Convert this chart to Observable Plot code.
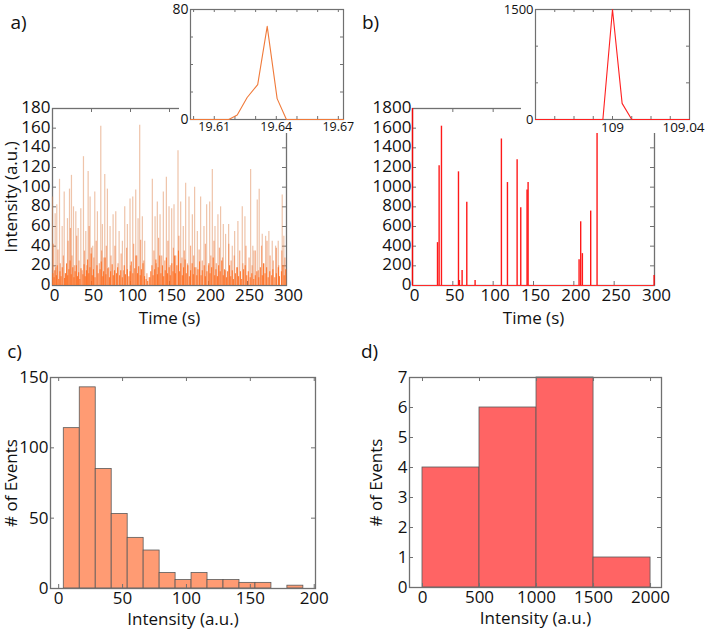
<!DOCTYPE html>
<html lang="en">
<head>
<meta charset="UTF-8">
<title>Intensity traces and histograms</title>
<script src="https://cdn.jsdelivr.net/npm/d3@7"></script>
<script src="https://cdn.jsdelivr.net/npm/@observablehq/plot@0.6"></script>
<style>
  body { margin: 0; background: white; }
  #fig { position: relative; width: 708px; height: 632px; }
</style>
</head>
<body>
<div id="fig"></div>
<script>
// ---- a) orange trace: [time (s), intensity] ----
const aTallSpikes = [
  [0,90],[3.4,73],[5.5,82],[9,108],[12.4,60],[15,95],[19.2,68],[21.8,98],[24.3,112],[26.9,80],
  [29.9,75],[32.9,58],[36.3,78],[39.7,131],[42.7,55],[45.7,116],[48.2,90],[51.6,40],[54.2,95],[57.6,75],
  [61.9,162],[64,62],[67,113],[70.4,98],[73.8,60],[77.7,72],[81.1,75],[85.4,55],[89.6,45],[92.6,80],
  [96,62],[99.4,88],[102.9,90],[106.7,97],[109.7,68],[111.8,163],[115.2,70],[118.2,45],[128,108],[131.5,70],
  [134.4,85],[137.9,72],[142.1,95],[146,110],[149.4,80],[152.8,78],[155.8,82],[160.9,137],[164.3,85],[167.7,60],
  [170.7,104],[175,90],[179.3,72],[182.2,100],[185.7,55],[189.9,90],[194.2,60],[197.6,82],[201.5,85],[204.9,118],
  [208.3,60],[212.1,72],[215.5,80],[219,62],[221.9,52],[225.8,62],[230.5,40],[233.5,55],[237.7,65],[243.3,80],
  [246.7,70],[254,118],[256.8,40],[258.2,35],[262.5,87],[265,98],[268.9,52],[273.2,50],[277.4,55],[281.7,45],
  [286,40],[289.4,45],[294.5,92],[296.6,50]
];
const aMidSpikes = [
  [1,42],[4,18],[7,36],[10,22],[14,30],[17,12],[20,45],[23,58],[25,30],[28,20],[31,50],[34,25],[38,15],
  [41,35],[44,20],[47,60],[50,38],[53,28],[56,45],[60,22],[63,35],[66,28],[69,40],[72,18],[75,30],[80,40],
  [84,22],[88,32],[91,15],[95,38],[100,20],[104,42],[108,30],[113,46],[117,25],[121,12],[125,8],[130,35],
  [133,22],[136,48],[140,30],[144,25],[148,45],[151,20],[155,38],[158,30],[162,50],[166,28],[169,35],
  [173,22],[177,40],[181,30],[184,18],[188,36],[192,25],[196,42],[200,20],[203,30],[207,45],[210,22],
  [214,38],[218,28],[222,15],[226,42],[229,25],[233,30],[236,18],[240,35],[244,22],[248,40],[252,28],
  [256,20],[260,35],[264,15],[268,40],[271,22],[275,45],[279,30],[283,25],[287,38],[290,20],[294,35],[298,28]
];
const aLowSpikes = [
  [0.5,12],[2,8],[3,15],[5,10],[6,20],[8,6],[9.5,14],[11,9],[12.5,18],[15.5,7],[16.5,12],[18,22],[19.5,10],
  [21,16],[22.5,25],[24,11],[26,18],[27.5,8],[29,14],[30.5,20],[32,9],[33.5,13],[35,6],[36.5,17],[39,11],
  [40.5,21],[42,9],[43.5,15],[45,26],[46.5,12],[48,18],[49.5,32],[51,10],[52.5,16],[54.5,8],[57,20],
  [58.5,12],[61,16],[62.5,24],[64.5,9],[65.5,14],[67.5,28],[68.5,11],[71,17],[73,8],[74.5,14],[76.5,21],
  [78,10],[79.5,15],[82,12],[83.5,18],[86,10],[87.5,15],[89.5,8],[92,20],[93.5,11],[96,16],[98,9],
  [99.5,14],[101,24],[103,12],[105.5,17],[107,30],[109,12],[110.5,19],[112.5,10],[114,16],[116,22],
  [118,9],[120,6],[122,4],[124,8],[126,14],[127.5,20],[129,10],[131,16],[132.5,26],[134.5,11],[135.5,18],
  [137.5,30],[139,12],[141,20],[142.5,9],[144.5,15],[146,28],[147.5,12],[149.5,18],[151,10],[153,22],
  [154.5,14],[156.5,30],[157.5,12],[159.5,20],[161.5,35],[163,14],[164.5,22],[166.5,10],[168,18],[170,26],
  [171.5,12],[173.5,20],[175.5,9],[177,15],[179,22],[180.5,11],[182.5,18],[185,10],[186.5,16],[188.5,24],
  [190.5,10],[192,15],[194.5,20],[196,9],[198,14],[200.5,22],[202,12],[204,18],[206,28],[208,10],
  [209.5,16],[211.5,9],[213,20],[215,14],[217,25],[219,10],[220.5,16],[223,8],[224.5,14],[227,20],
  [228.5,9],[230.5,15],[232,6],[234.5,12],[237,18],[238.5,9],[241,14],[242.5,6],[245,16],[247,20],
  [249,10],[251,14],[253.5,8],[255.5,12],[258,6],[260,10],[262,14],[264.5,8],[266.5,18],[269,10],
  [270.5,22],[272.5,12],[274.5,18],[276.5,8],[278.5,14],[281,10],[282.5,16],[285,8],[287,12],
  [289.5,18],[291,9],[293.5,14],[295.5,20],[297,10],[299,16]
];
const aTicksX = [0, 50, 100, 150, 200, 250, 300];
const aTicksY = [0, 20, 40, 60, 80, 100, 120, 140, 160, 180];

// inset a: single event
const insetATime = [19.5985, 19.617, 19.6211, 19.6259, 19.631, 19.6356, 19.6404, 19.6449, 19.6725];
const insetAIntensity = [0, 0, 3.3, 16, 25.4, 67.7, 15.2, 0, 0];
const insetATickLabels = [19.61, 19.64, 19.67];
const insetATicksX = [19.6, 19.61, 19.62, 19.63, 19.64, 19.65, 19.66, 19.67];

// ---- b) red trace ----
const bSpikeTime = [0, 31, 33, 35.9, 57, 58.2, 61.5, 67.3, 77.6, 110.2, 117.7, 129.7, 134.2, 142, 143.3,
  206.5, 208.5, 210.6, 220.9, 228.8, 299.5];
const bSpikeIntensity = [1800, 436, 1217, 1620, 1156, 51, 153, 846, 51, 1490, 1047, 1279, 791, 972, 1047,
  262, 648, 324, 757, 1551, 102];
const bTicksX = [0, 50, 100, 150, 200, 250, 300];
const bTicksY = [0, 200, 400, 600, 800, 1000, 1200, 1400, 1600, 1800];

const insetBTime = [108.96, 108.995, 109, 109.005, 109.01, 109.04];
const insetBIntensity = [0, 0, 1500, 220, 0, 0];
const insetBTicksX = [108.97, 108.98, 108.99, 109, 109.01, 109.02, 109.03];

// ---- c) histogram of orange events ----
const cBinEdges = [4, 16.5, 29, 41.5, 54, 66.5, 79, 91.5, 104, 116.5, 129, 141.5, 154, 166.5, 179, 191.5];
const cCounts = [114, 143, 85, 53, 36, 27, 11, 6, 11, 6, 6, 4, 4, 0, 2];
const cTicksX = [0, 50, 100, 150, 200];
const cTicksY = [0, 50, 100, 150];

// ---- d) histogram of red events ----
const dBinEdges = [0, 500, 1000, 1500, 2000];
const dCounts = [4, 6, 7, 1];
const dTicksX = [0, 500, 1000, 1500, 2000];
const dTicksY = [0, 1, 2, 3, 4, 5, 6, 7];

const GRAY = "#707070";
const INK = "#111";
const FONT = "'Open Sans', sans-serif";
const fmt = d => String(d);
const fig = document.getElementById("fig");

function place(el, left, top) {
  el.style.position = "absolute";
  el.style.left = left + "px";
  el.style.top = top + "px";
  el.style.overflow = "visible";
  el.style.maxWidth = "none";
  fig.append(el);
}

// inward ticks on all four sides of the frame (w, h = frame size in px)
function boxTicks(xt, yt, w, h, len) {
  const s = {stroke: GRAY, strokeWidth: 1};
  return [
    Plot.tickX(xt, {x: d => d, insetTop: h - len, ...s}),
    Plot.tickX(xt, {x: d => d, insetBottom: h - len, ...s}),
    Plot.tickY(yt, {y: d => d, insetRight: w - len, ...s}),
    Plot.tickY(yt, {y: d => d, insetLeft: w - len, ...s})
  ];
}

const baseStyle = {fontFamily: FONT, fontSize: "17px", color: INK, background: "white"};
const mid = {textAnchor: "middle", lineAnchor: "middle"};

// a) main
place(Plot.plot({
  width: 310, height: 330,
  marginLeft: 52, marginRight: 24, marginTop: 108, marginBottom: 45,
  x: {domain: [0, 300]},
  y: {domain: [0, 180]},
  style: baseStyle,
  marks: [
    Plot.frame({stroke: GRAY, strokeWidth: 1.3}),
    ...boxTicks(aTicksX, aTicksY, 234, 177, 4),
    Plot.ruleX(aTallSpikes, {x: d => d[0], y1: 0, y2: d => d[1], stroke: "#e08a55", strokeOpacity: 0.5, strokeWidth: 1.2}),
    Plot.ruleX(aMidSpikes, {x: d => d[0], y1: 0, y2: d => d[1], stroke: "#f2783a", strokeOpacity: 0.6, strokeWidth: 1.2}),
    Plot.ruleX(aLowSpikes, {x: d => d[0], y1: 0, y2: d => d[1], stroke: "#ff6a1a", strokeOpacity: 0.85, strokeWidth: 1.1}),
    Plot.axisX({ticks: aTicksX, tickSize: 0, tickPadding: 3, dx: 2, fontSize: 17, tickFormat: fmt, label: null}),
    Plot.axisY({ticks: aTicksY, tickSize: 0, tickPadding: 2, dy: -1, fontSize: 17, tickFormat: fmt, label: null}),
    Plot.text(["Time (s)"], {frameAnchor: "bottom", dy: 33, fontSize: 17, ...mid}),
    Plot.text(["Intensity (a.u.)"], {frameAnchor: "left", dx: -41, rotate: -90, fontSize: 17, ...mid}),
    Plot.text(["a)"], {frameAnchor: "top-left", dx: -34, dy: -86, fontSize: 19, ...mid})
  ]
}), 0, 0);

// b) main
place(Plot.plot({
  width: 354, height: 330,
  marginLeft: 58, marginRight: 54, marginTop: 108, marginBottom: 45,
  x: {domain: [0, 300]},
  y: {domain: [0, 1800]},
  style: baseStyle,
  marks: [
    Plot.frame({stroke: GRAY, strokeWidth: 1.3}),
    ...boxTicks(bTicksX, bTicksY, 242, 177, 4),
    Plot.ruleX(bSpikeTime, {x: d => d, y1: 0, y2: (d, i) => bSpikeIntensity[i], stroke: "#ff0000", strokeWidth: 1.4, strokeOpacity: 0.9}),
    Plot.ruleY([0], {stroke: "#ff2a2a", strokeWidth: 1.2}),
    Plot.axisX({ticks: bTicksX, tickSize: 0, tickPadding: 3, dx: 2, fontSize: 17, tickFormat: fmt, label: null}),
    Plot.axisY({ticks: bTicksY, tickSize: 0, tickPadding: 1, dy: -1, fontSize: 17, tickFormat: fmt, label: null}),
    Plot.text(["Time (s)"], {frameAnchor: "bottom", dy: 33, fontSize: 17, ...mid}),
    Plot.text(["b)"], {frameAnchor: "top-left", dx: -42, dy: -86, fontSize: 19, ...mid})
  ]
}), 354, 0);

// c) histogram
place(Plot.plot({
  width: 354, height: 302,
  marginLeft: 50, marginRight: 39, marginTop: 47, marginBottom: 44,
  x: {domain: [-6.4, 201]},
  y: {domain: [0, 150]},
  style: baseStyle,
  marks: [
    Plot.rectY(cCounts, {x1: (d, i) => cBinEdges[i], x2: (d, i) => cBinEdges[i + 1], y1: 0, y2: d => d,
      fill: "#ff9b73", stroke: "#5a5a5a", strokeWidth: 0.8}),
    Plot.frame({stroke: GRAY, strokeWidth: 1.3}),
    ...boxTicks(cTicksX, cTicksY, 265, 211, 4),
    Plot.axisX({ticks: cTicksX, tickSize: 0, tickPadding: 3, fontSize: 17, tickFormat: fmt, label: null}),
    Plot.axisY({ticks: cTicksY, tickSize: 0, tickPadding: 2, fontSize: 17, tickFormat: fmt, label: null}),
    Plot.text(["Intensity (a.u.)"], {frameAnchor: "bottom", dy: 31, fontSize: 17, ...mid}),
    Plot.text(["# of Events"], {frameAnchor: "left", dx: -39, rotate: -90, fontSize: 17, ...mid}),
    Plot.text(["c)"], {frameAnchor: "top-left", dx: -36, dy: -26, fontSize: 19, ...mid})
  ]
}), 0, 330);

// d) histogram
place(Plot.plot({
  width: 354, height: 302,
  marginLeft: 55, marginRight: 47, marginTop: 47, marginBottom: 45,
  x: {domain: [-114, 2096]},
  y: {domain: [0, 7]},
  style: baseStyle,
  marks: [
    Plot.rectY(dCounts, {x1: (d, i) => dBinEdges[i], x2: (d, i) => dBinEdges[i + 1], y1: 0, y2: d => d,
      fill: "#ff6464", stroke: "#5a5a5a", strokeWidth: 0.8}),
    Plot.frame({stroke: GRAY, strokeWidth: 1.3}),
    ...boxTicks(dTicksX, dTicksY, 252, 210, 4),
    Plot.axisX({ticks: dTicksX, tickSize: 0, tickPadding: 3, fontSize: 17, tickFormat: fmt, label: null}),
    Plot.axisY({ticks: dTicksY, tickSize: 0, tickPadding: 2, fontSize: 17, tickFormat: fmt, label: null}),
    Plot.text(["Intensity (a.u.)"], {frameAnchor: "bottom", dy: 31, fontSize: 17, ...mid}),
    Plot.text(["# of Events"], {frameAnchor: "left", dx: -33, rotate: -90, fontSize: 17, ...mid}),
    Plot.text(["d)"], {frameAnchor: "top-left", dx: -40, dy: -26, fontSize: 19, ...mid})
  ]
}), 354, 330);

// inset a (drawn on top, white background hides the main frame corner)
place(Plot.plot({
  width: 179, height: 133,
  marginLeft: 11, marginRight: 15, marginTop: 9, marginBottom: 14,
  x: {domain: [19.5985, 19.6725]},
  y: {domain: [0, 80]},
  style: {...baseStyle, fontSize: "13px"},
  marks: [
    Plot.frame({stroke: GRAY, strokeWidth: 1.2}),
    ...boxTicks(insetATicksX, [20, 40, 60], 153, 110, 3),
    Plot.line(insetATime, {x: d => d, y: (d, i) => insetAIntensity[i], stroke: "#f07a3a", strokeWidth: 1.1}),
    Plot.axisX({ticks: insetATickLabels, tickSize: 0, tickPadding: 3, fontSize: 12.5, tickFormat: d => d.toFixed(2), label: null}),
    Plot.axisY({ticks: [0, 80], tickSize: 0, tickPadding: 2, fontSize: 14, tickFormat: fmt, label: null})
  ]
}), 179, 0);

// inset b
place(Plot.plot({
  width: 187, height: 133,
  marginLeft: 14, marginRight: 19, marginTop: 9, marginBottom: 14,
  x: {domain: [108.96, 109.04]},
  y: {domain: [0, 1500]},
  style: {...baseStyle, fontSize: "13px"},
  marks: [
    Plot.frame({stroke: GRAY, strokeWidth: 1.2}),
    ...boxTicks(insetBTicksX, [500, 1000], 154, 110, 3),
    Plot.line(insetBTime, {x: d => d, y: (d, i) => insetBIntensity[i], stroke: "#ff2020", strokeWidth: 1.1}),
    Plot.axisX({ticks: [109], tickSize: 0, tickPadding: 3, fontSize: 13.5, tickFormat: d => "109", label: null}),
    Plot.axisX({ticks: [109.04], tickSize: 0, tickPadding: 3, dx: -6, fontSize: 13.5, tickFormat: d => d.toFixed(2), label: null}),
    Plot.axisY({ticks: [0, 1500], tickSize: 0, tickPadding: 2, fontSize: 13, tickFormat: fmt, label: null})
  ]
}), 521, 0);
</script>
</body>
</html>
